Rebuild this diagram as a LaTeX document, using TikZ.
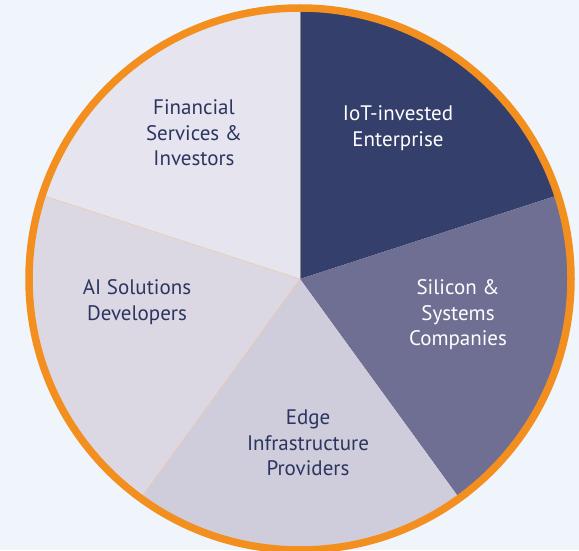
\documentclass[tikz,border=0pt]{standalone}
\usepackage{fontspec}
\usetikzlibrary{calc}
\setmainfont{PT Sans}
\definecolor{bgc}{HTML}{F0F4FB}
\definecolor{iot}{HTML}{353F6B}
\definecolor{sil}{HTML}{6F6F93}
\definecolor{edg}{HTML}{CFCCDB}
\definecolor{ais}{HTML}{DBD8E3}
\definecolor{fin}{HTML}{E6E4EE}
\definecolor{ring}{HTML}{F28F1F}
\definecolor{sep}{HTML}{F0C9A8}
\definecolor{txt}{HTML}{2B3560}
\tikzset{
  lbl/.style={align=center, font=\fontsize{21}{25.5}\selectfont, text=txt, inner sep=0pt},
  lblw/.style={lbl, text=white},
}
\begin{document}
\begin{tikzpicture}[x=1pt,y=1pt]
\fill[bgc] (0,0) rectangle (579,550);
\useasboundingbox (0,0) rectangle (579,550);
\coordinate (c) at (300,271);
\fill[iot] (c) -- ++(90:271) arc[start angle=90, end angle=18, radius=271] -- cycle;
\fill[sil] (c) -- ++(18:271) arc[start angle=18, end angle=-54, radius=271] -- cycle;
\fill[edg] (c) -- ++(-54:271) arc[start angle=-54, end angle=-126, radius=271] -- cycle;
\fill[ais] (c) -- ++(-126:271) arc[start angle=-126, end angle=-198, radius=271] -- cycle;
\fill[fin] (c) -- ++(162:271) arc[start angle=162, end angle=90, radius=271] -- cycle;
\coordinate (p90) at ($(c)+(90:271)$);
\coordinate (p162) at ($(c)+(162:271)$);
\coordinate (p234) at ($(c)+(234:271)$);
\draw[sep, line width=0.6pt] (c) -- (p162);
\draw[sep, line width=0.6pt] (c) -- (p234);
\draw[black!45, line width=0.6pt] (c) -- (p90);
\draw[ring, line width=7.5pt] (c) circle[radius=271];
\node[lbl] (fin) at (194,417) {Financial\\Services \&\\Investors};
\node[lblw] (iotl) at (398,422) {IoT-invested\\Enterprise};
\node[lbl] (ai) at (137,248) {AI Solutions\\Developers};
\node[lblw] (silc) at (458,235) {Silicon \&\\Systems\\Companies};
\node[lbl] (edge) at (308,107) {Edge\\Infrastructure\\Providers};
\end{tikzpicture}
\end{document}
